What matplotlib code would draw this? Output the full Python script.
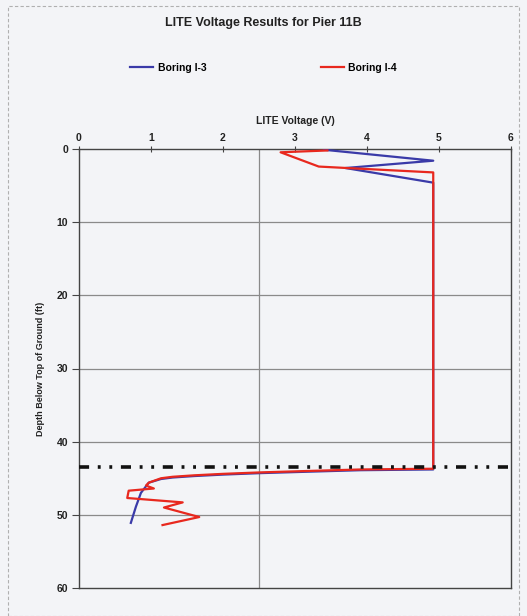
import matplotlib
matplotlib.use("Agg")
import matplotlib.pyplot as plt
from matplotlib.patches import Rectangle

plt.rcParams['font.family'] = ['Liberation Sans', 'DejaVu Sans']

title = "LITE Voltage Results for Pier 11B"
xlabel = "LITE Voltage (V)"
ylabel = "Depth Below Top of Ground (ft)"
series_names = ["Boring I-3", "Boring I-4"]

i3_voltage = [3.40, 4.92, 3.70, 4.92, 4.92, 4.40, 3.91, 3.20, 2.52, 2.00, 1.60, 1.30, 1.14, 0.97,
              0.86, 0.79, 0.72]
i3_depth = [0.1, 1.6, 2.6, 4.6, 43.8, 43.85, 43.9, 44.1, 44.3, 44.5, 44.7, 44.9, 45.1, 45.6,
            47.0, 48.9, 51.1]

i4_voltage = [3.45, 2.80, 3.33, 3.72, 4.92, 4.92, 4.40, 3.91, 3.20, 2.52, 2.00, 1.60, 1.30, 1.14,
              0.97, 0.93, 1.04, 0.69, 0.67, 1.44, 1.18, 1.67, 1.16]
i4_depth = [0.2, 0.45, 2.4, 2.6, 3.2, 43.7, 43.75, 43.8, 44.0, 44.2, 44.4, 44.6, 44.8, 45.0,
            45.6, 46.0, 46.4, 46.7, 47.7, 48.3, 49.0, 50.3, 51.4]

ref_depth = 43.4
x_ticks = [0, 1, 2, 3, 4, 5, 6]
y_ticks = [0, 10, 20, 30, 40, 50, 60]

W, H = 527, 616
fig = plt.figure(figsize=(W / 100, H / 100), dpi=100)
bg = "#f3f4f7"
fig.patch.set_facecolor(bg)
fig.patches.append(Rectangle((8 / W, 0.0), 1 - 16 / W, 1 - 6 / H, transform=fig.transFigure,
                             fill=False, edgecolor="#b0b0b0", lw=0.8, ls=(0, (3, 2))))

ax = fig.add_axes([79 / W, 1 - 588 / H, (511 - 79) / W, (588 - 149) / H])
ax.set_facecolor(bg)
ax.set_xlim(0, 6)
ax.set_ylim(60, 0)

for d in [10, 20, 30, 40, 50]:
    ax.axhline(d, color="#8a8a8a", lw=0.9, zorder=1)
ax.axvline(2.5, color="#8a8a8a", lw=0.9, zorder=1)

ax.plot(i3_voltage, i3_depth, color="#3a3aa8", lw=1.6, label=series_names[0], zorder=3)
ax.plot(i4_voltage, i4_depth, color="#e8281e", lw=1.6, label=series_names[1], zorder=4)
ax.axhline(ref_depth, color="#111111", lw=2.6, ls=(0, (2.8, 2.4, 0.8, 2.4, 0.8, 2.4)), zorder=5)

ax.xaxis.tick_top()
ax.xaxis.set_label_position("top")
ax.set_xticks(x_ticks)
ax.set_yticks(y_ticks)
ax.tick_params(axis="x", direction="inout", length=5, width=0.8, colors="#444444",
               labelcolor="#222222", labelsize=7.5, pad=2)
ax.tick_params(axis="y", direction="out", length=5, width=0.8, colors="#444444",
               labelcolor="#222222", labelsize=7.5, pad=3)
for lab in ax.get_xticklabels() + ax.get_yticklabels():
    lab.set_fontweight("bold")
ax.set_xlabel(xlabel, fontsize=7.5, fontweight="bold", labelpad=6, color="#222222")
ax.set_ylabel(ylabel, fontsize=6.5, fontweight="bold", labelpad=8, color="#222222")
for s in ax.spines.values():
    s.set_color("#444444")
    s.set_linewidth(1.0)

fig.text(0.5, 1 - 23 / H, title, ha="center", va="center", fontsize=9, fontweight="bold",
         color="#222222")
fig.legend(loc="center", bbox_to_anchor=(0.5, 1 - 68 / H), ncol=2, frameon=False,
           prop={"weight": "bold", "size": 7.5}, handlelength=2.2,
           columnspacing=11, handletextpad=0.4)

fig.savefig("out.png", dpi=100, facecolor=bg)
